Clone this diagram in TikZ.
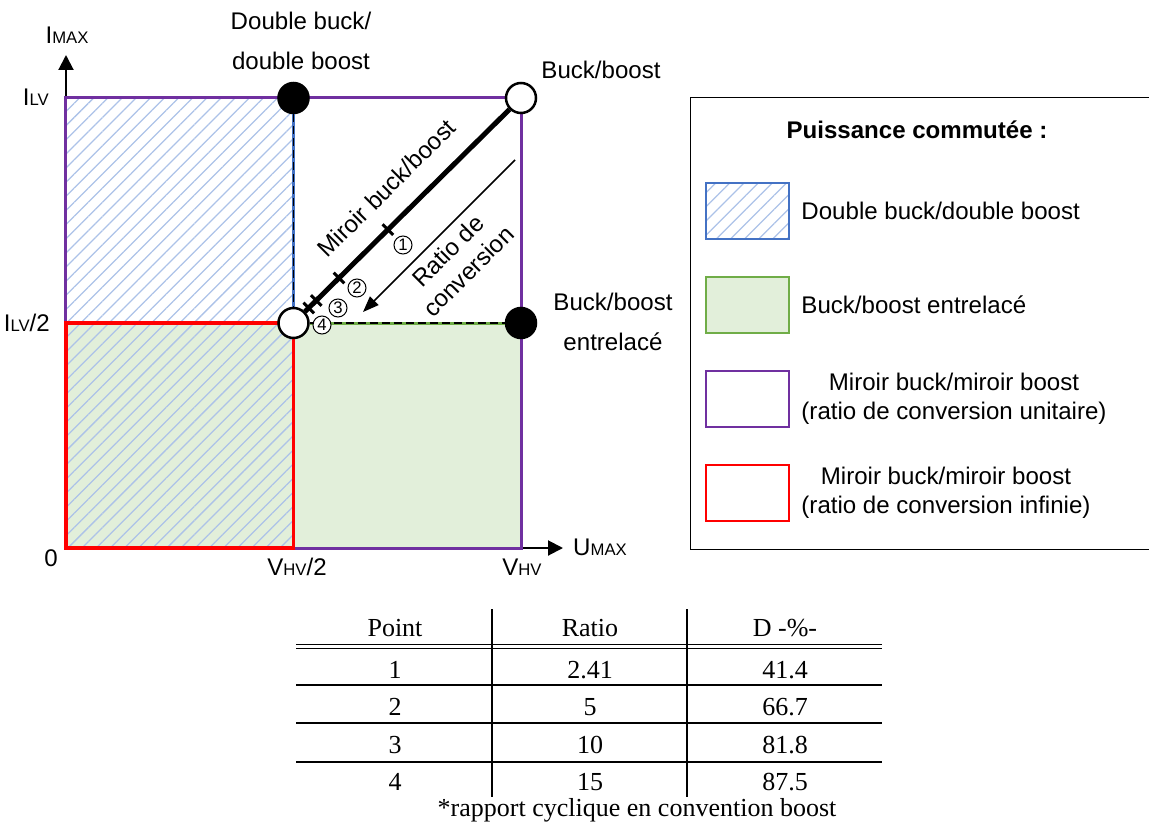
\documentclass[tikz,border=0pt]{standalone}
\usepackage{fontspec}
\setmainfont{Liberation Sans}
\newfontfamily\tabfont{Liberation Serif}
\usetikzlibrary{positioning, arrows.meta, patterns.meta}

\definecolor{hatchblue}{RGB}{172,194,232}
\definecolor{dbblue}{RGB}{68,114,196}
\definecolor{ilgreen}{RGB}{112,173,71}
\definecolor{ilfill}{RGB}{226,239,218}
\definecolor{mirpurple}{RGB}{112,48,160}
\definecolor{mirred}{RGB}{255,0,0}

\newcommand{\subtxt}[1]{{\fontsize{9.5}{10}\selectfont #1}}

\begin{document}
\begin{tikzpicture}[
    lbl/.style={font=\fontsize{13.7}{16.5}\selectfont},
    tall/.style={font=\fontsize{13.7}{22.8}\selectfont, align=center},
    hatch/.style={pattern={Lines[angle=45, distance=0.2cm, line width=0.025cm]}, pattern color=hatchblue},
    dot/.style={circle, draw, line width=0.05cm, minimum size=0.6cm, inner sep=0pt},
    axis/.style={line width=0.04cm, -{Triangle[length=0.3cm, width=0.3cm]}},
    tickmark/.style={fill=black, minimum width=0.06cm, minimum height=0.3cm, inner sep=0pt, sloped},
    num/.style={circle, draw, fill=white, line width=0.02cm, minimum size=0.36cm, inner sep=0pt, font=\fontsize{9.5}{10}\selectfont},
    swatch/.style={minimum width=1.66cm, minimum height=1.12cm, line width=0.05cm},
    tabtxt/.style={font=\tabfont\fontsize{14.8}{17}\selectfont},
    dashes/.style={black, line width=0.035cm, dash pattern=on 0.16cm off 0.08cm}
]
    \useasboundingbox (-1.32,-5.6) rectangle (21.66,10.96);

    % Regions
    \fill[ilfill] (0,0) rectangle (9.1,4.5);
    \fill[hatch] (0,0) rectangle (4.55,9);

    % Axes
    \coordinate (orig) at (0,0);
    \coordinate (ytip) at (0,9.86);
    \coordinate (xtip) at (9.94,0);
    \draw[axis] (orig) -- (ytip);
    \draw[axis] (orig) -- (xtip);

    % Region borders
    \draw[mirpurple, line width=0.06cm] (0,0) rectangle (9.1,9);
    \draw[mirred, line width=0.07cm] (0,0) rectangle (4.55,4.5);

    % Axis labels
    \node[lbl] (imax) at (0.02,10.26) {I\subtxt{MAX}};
    \node[lbl, anchor=east] (ilv) at (-0.22,9.02) {I\subtxt{LV}};
    \node[lbl, anchor=east] (ilvhalf) at (-0.2,4.5) {I\subtxt{LV}/2};
    \node[lbl] (zero) at (-0.3,-0.2) {0};
    \node[lbl] (vhvhalf) at (4.62,-0.38) {V\subtxt{HV}/2};
    \node[lbl] (vhv) at (9.12,-0.38) {V\subtxt{HV}};
    \node[lbl, anchor=west] (umax) at (10.02,0.02) {U\subtxt{MAX}};

    % Operating points
    \node[dot, fill=black] (dbl) at (4.55,9) {};
    \node[dot, fill=white] (bb) at (9.1,9) {};
    \node[dot, fill=white] (mid) at (4.55,4.5) {};
    \node[dot, fill=black] (inter) at (9.1,4.5) {};

    \node[tall] (dbllbl) at (4.7,10.14) {Double buck/\\double boost};
    \node[lbl] (bblbl) at (10.7,9.56) {Buck/boost};
    \node[tall] (interlbl) at (10.94,4.52) {Buck/boost\\entrelacé};

    % Dashed borders between points
    \draw[dbblue, line width=0.06cm] (dbl) -- (mid);
    \draw[dashes] (dbl) -- (mid);
    \draw[ilgreen, line width=0.06cm] (mid) -- (inter);
    \draw[dashes] (mid) -- (inter);

    % Miroir diagonal with ratio ticks
    \draw[line width=0.1cm] (mid) -- (bb);
    \path (mid.center) -- (bb.center)
        node[tickmark, pos=0.415] (t1) {}
        node[tickmark, pos=0.2] (t2) {}
        node[tickmark, pos=0.1] (t3) {}
        node[tickmark, pos=0.067] (t4) {};
    \node[num] (n1) at (6.74,6.06) {1};
    \node[num] (n2) at (5.82,5.2) {2};
    \node[num] (n3) at (5.44,4.8) {3};
    \node[num] (n4) at (5.12,4.46) {4};
    \node[lbl, rotate=45] (mirlbl) at (6.41,7.2) {Miroir buck/boost};

    % Conversion ratio arrow
    \coordinate (rstart) at (8.98,7.76);
    \coordinate (rend) at (5.94,4.72);
    \draw[line width=0.03cm, -{Triangle[length=0.32cm, width=0.24cm]}] (rstart) -- (rend);
    \node[lbl, rotate=45, align=center] (ratiolbl) at (7.84,5.74) {Ratio de\\conversion};

    % Legend
    \draw[line width=0.02cm] (21.66,9.0) -| (12.48,-0.02) -- (21.66,-0.02);
    \node[font=\bfseries\fontsize{13.7}{16.5}\selectfont] (title) at (17.02,8.36) {Puissance commutée :};
    \node[swatch, draw=dbblue, hatch] (sw1) at (13.63,6.74) {};
    \node[swatch, draw=ilgreen, fill=ilfill, below=0.71cm of sw1] (sw2) {};
    \node[swatch, draw=mirpurple, below=0.71cm of sw2] (sw3) {};
    \node[swatch, draw=mirred, below=0.71cm of sw3] (sw4) {};
    \node[lbl, right=0.1cm of sw1] (lg1) {Double buck/double boost};
    \node[lbl, right=0.1cm of sw2] (lg2) {Buck/boost entrelacé};
    \node[lbl, align=center, right=0.1cm of sw3] (lg3) {Miroir buck/miroir boost\\(ratio de conversion unitaire)};
    \node[lbl, align=center, right=0.1cm of sw4] (lg4) {Miroir buck/miroir boost\\(ratio de conversion infinie)};

    % Table grid
    \draw[line width=0.03cm] (8.52,-1.22) -- (8.52,-4.98);
    \draw[line width=0.03cm] (12.42,-1.22) -- (12.42,-4.98);
    \draw[line width=0.03cm] (4.6,-1.93) -- (16.32,-1.93);
    \draw[line width=0.03cm] (4.6,-2.01) -- (16.32,-2.01);
    \draw[line width=0.04cm] (4.6,-2.74) -- (16.32,-2.74);
    \draw[line width=0.04cm] (4.6,-3.5) -- (16.32,-3.5);
    \draw[line width=0.04cm] (4.6,-4.28) -- (16.32,-4.28);

    % Table header
    \node[tabtxt] (hpt) at (6.58,-1.6) {Point};
    \node[tabtxt] (hrat) at (10.48,-1.6) {Ratio};
    \node[tabtxt] (hd) at (14.38,-1.6) {D -\%-};

    % Table rows
    \node[tabtxt] (p1) at (6.58,-2.44) {1};
    \node[tabtxt] (r1) at (10.48,-2.44) {2.41};
    \node[tabtxt] (d1) at (14.38,-2.44) {41.4};
    \node[tabtxt] (p2) at (6.58,-3.18) {2};
    \node[tabtxt] (r2) at (10.48,-3.18) {5};
    \node[tabtxt] (d2) at (14.38,-3.18) {66.7};
    \node[tabtxt] (p3) at (6.58,-3.94) {3};
    \node[tabtxt] (r3) at (10.48,-3.94) {10};
    \node[tabtxt] (d3) at (14.38,-3.94) {81.8};
    \node[tabtxt] (p4) at (6.58,-4.68) {4};
    \node[tabtxt] (r4) at (10.48,-4.68) {15};
    \node[tabtxt] (d4) at (14.38,-4.68) {87.5};

    \node[tabtxt] (note) at (11.42,-5.24) {*rapport cyclique en convention boost};
\end{tikzpicture}
\end{document}
